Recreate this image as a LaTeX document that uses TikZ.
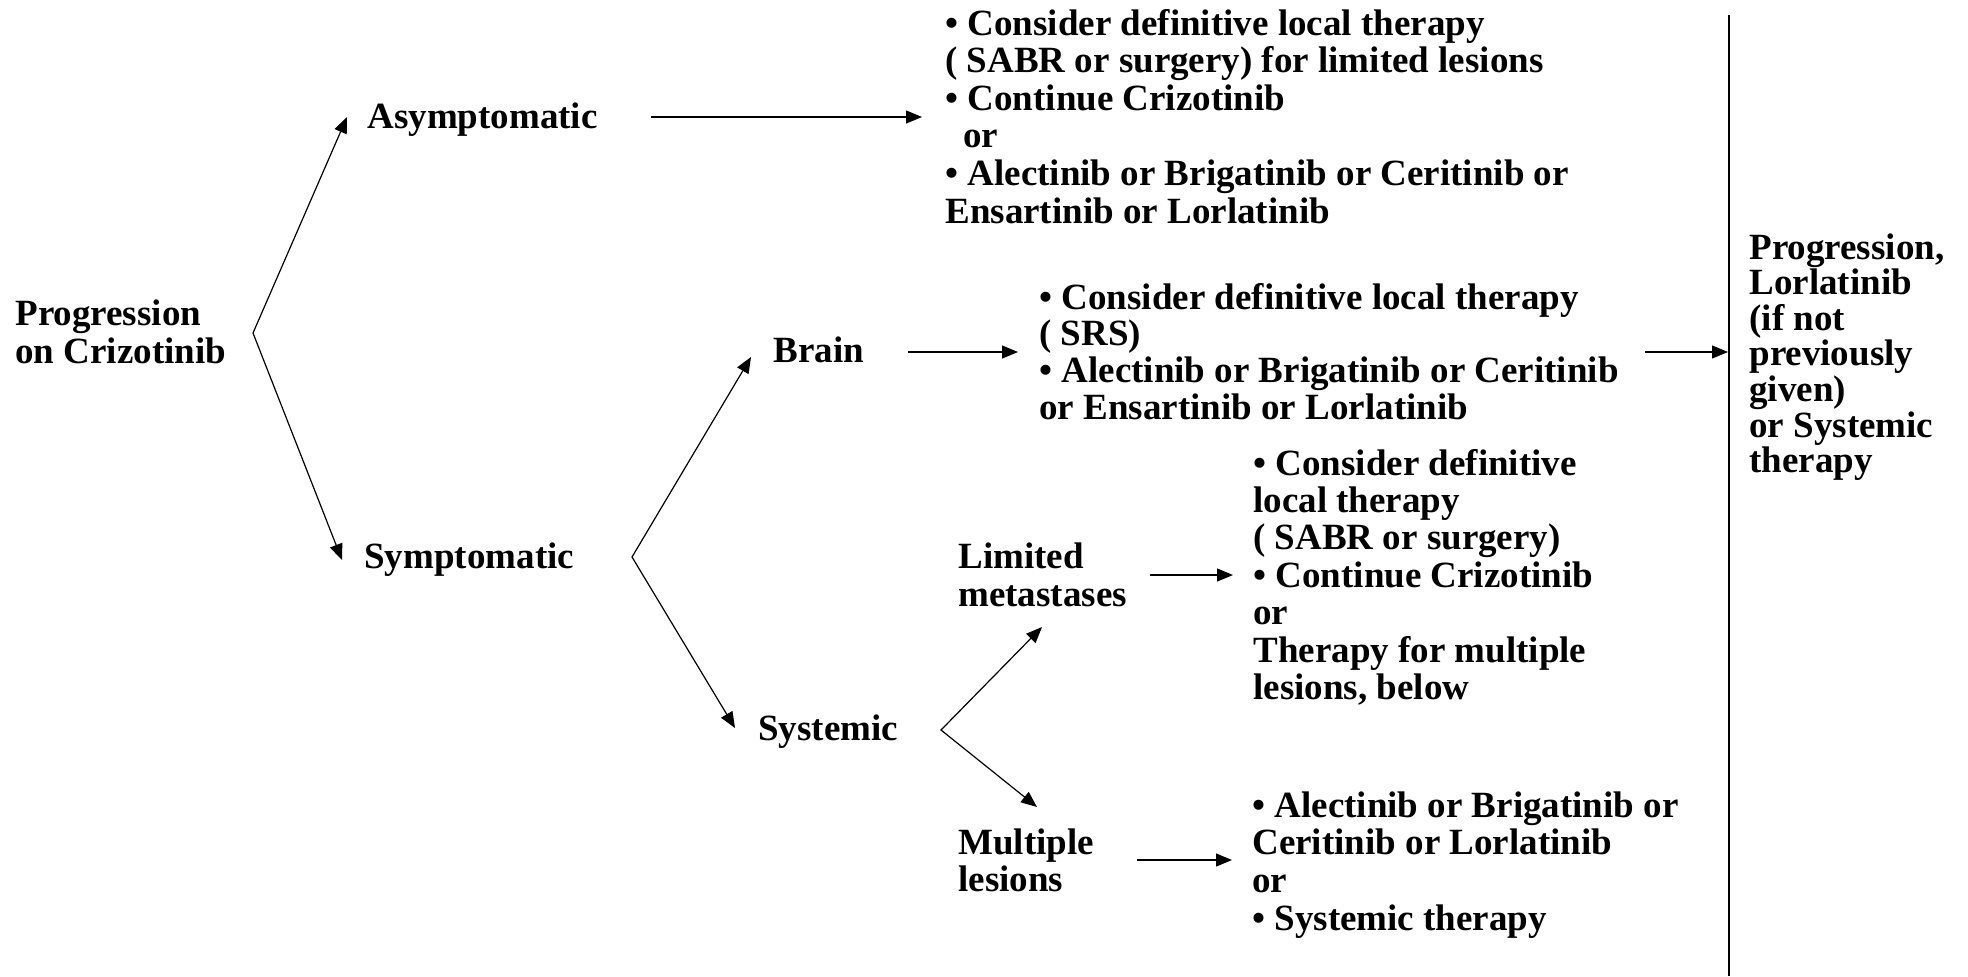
\documentclass[tikz,border=0pt]{standalone}
\usepackage{fontspec}
\setmainfont{Liberation Serif}
\usetikzlibrary{arrows.meta}
\newcommand\blk[2]{\vtop{\fontsize{18.5}{#1}\selectfont\lineskiplimit=-100pt\relax\halign{##\hfil\cr#2\crcr}}}
\begin{document}
\begin{tikzpicture}[x=0.5pt,y=-0.5pt,
  lbl/.style={inner sep=0pt,anchor=base west,font=\bfseries\fontsize{18.5}{18.5}\selectfont},
  ln/.style={line width=0.6pt},
  arr/.style={line width=0.6pt,-{Triangle[length=8pt,width=6.5pt]}},
  both/.style={line width=0.6pt,{Triangle[length=8pt,width=6.5pt]}-{Triangle[length=8pt,width=6.5pt]}}]
\fill[white] (0,0) rectangle (1968,976);
\useasboundingbox (0,0) rectangle (1968,976);
% nodes
\node[lbl] (prog) at (15,325) {\blk{19}{Progression\cr on Crizotinib}};
\node[lbl] (asym) at (367,128) {Asymptomatic};
\node[lbl] (sym) at (364,568) {Symptomatic};
\node[lbl] (brain) at (773,362) {Brain};
\node[lbl] (sys) at (758,740) {Systemic};
\node[lbl] (lim) at (958,568) {\blk{19.2}{Limited\cr metastases}};
\node[lbl] (mult) at (958,854) {\blk{18.7}{Multiple\cr lesions}};
\node[lbl] (top) at (945,35) {\blk{18.8}{• Consider definitive local therapy\cr ( SABR or surgery) for limited lesions\cr • Continue Crizotinib\cr \kern9pt or\cr • Alectinib or Brigatinib or Ceritinib or\cr Ensartinib or Lorlatinib}};
\node[lbl] (bbox) at (1039,309) {\blk{18.4}{• Consider definitive local therapy\cr ( SRS)\cr • Alectinib or Brigatinib or Ceritinib\cr or Ensartinib or Lorlatinib}};
\node[lbl] (lbox) at (1253,475) {\blk{18.7}{• Consider definitive\cr local therapy\cr ( SABR or surgery)\cr • Continue Crizotinib\cr or\cr Therapy for multiple\cr lesions, below}};
\node[lbl] (mbox) at (1252,817) {\blk{18.85}{• Alectinib or Brigatinib or\cr Ceritinib or Lorlatinib\cr or\cr • Systemic therapy}};
\node[lbl] (right) at (1749,259) {\blk{17.8}{Progression,\cr Lorlatinib\cr (if not\cr previously\cr given)\cr or Systemic\cr therapy}};
% connectors
\draw[both] ([shift={(-20,-11)}]asym.base west) -- ([shift={(238,8)}]prog.base west) -- ([shift={(-22,-8)}]sym.base west);
\draw[arr] ([shift={(284,-11)}]asym.base west) -- ([shift={(-23,82)}]top.base west);
\draw[both] ([shift={(-22,-5)}]brain.base west) -- ([shift={(268,-11)}]sym.base west) -- ([shift={(-23,-12)}]sys.base west);
\draw[arr] ([shift={(135,-10)}]brain.base west) -- ([shift={(-21,43)}]bbox.base west);
\draw[arr] ([shift={(606,43)}]bbox.base west) -- ([shift={(-21,93)}]right.base west);
\draw[both] ([shift={(84,59)}]lim.base west) -- ([shift={(183,-10)}]sys.base west) -- ([shift={(79,-47)}]mult.base west);
\draw[arr] ([shift={(192,7)}]lim.base west) -- ([shift={(-20,100)}]lbox.base west);
\draw[arr] ([shift={(179,6)}]mult.base west) -- ([shift={(-20,43)}]mbox.base west);
\draw[ln] ([shift={(-20,-244)}]right.base west) -- ([shift={(-20,717)}]right.base west);
\end{tikzpicture}
\end{document}
